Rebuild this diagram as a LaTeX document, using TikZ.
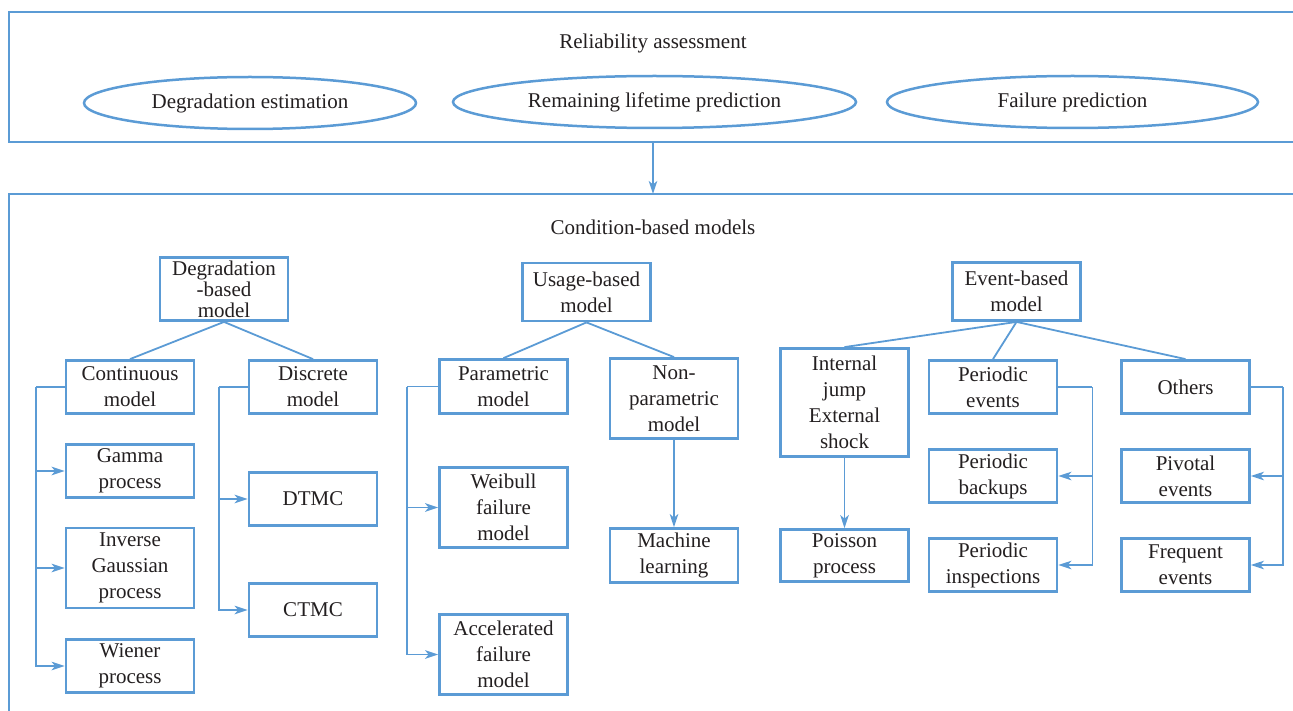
\documentclass[tikz,border=0pt]{standalone}
\usepackage{fontspec}
\setmainfont{Liberation Serif}
\usetikzlibrary{arrows.meta,shapes.geometric}
\definecolor{lineblue}{HTML}{5B9BD5}
\definecolor{ink}{HTML}{231F20}
\begin{document}
\begin{tikzpicture}[x=1pt,y=-1pt,
  every node/.style={text=ink,font=\fontsize{21}{26}\selectfont},
  box/.style={draw=lineblue,line width=2.8pt,rectangle,minimum width=128,align=center,inner sep=2pt},
  oval/.style={draw=lineblue,line width=2.5pt,ellipse,inner sep=0pt},
  link/.style={draw=lineblue,line width=1.8pt},
  arr/.style={link,-{Stealth[length=13pt,width=8.5pt,inset=3.5pt]}}]
\useasboundingbox (0,0) rectangle (1293,711);
%
% outer frames
\draw[link,line width=2.8pt] (1293,12) -- (9,12) -- (9,142) -- (1293,142);
\draw[link,line width=2.8pt] (1293,194) -- (9,194) -- (9,711);
\coordinate (topframe) at (653,142);
\coordinate (botframe) at (653,194);
\draw[arr] (topframe) -- (botframe);
%
% reliability assessment
\node (rel) at (653,43) {Reliability assessment};
\node[oval,minimum width=332,minimum height=52] (degest) at (250,103) {Degradation estimation};
\node[oval,minimum width=403,minimum height=52] (rlp) at (654.5,102) {Remaining lifetime prediction};
\node[oval,minimum width=371,minimum height=52] (failp) at (1072.5,102) {Failure prediction};
%
% condition-based models
\node (cbm) at (653,227) {Condition-based models};
\node[box,minimum height=63,font=\fontsize{21}{21}\selectfont] (deg) at (224,289) {Degradation\\-based\\model};
\node[box,minimum height=58] (usg) at (586.5,292) {Usage-based\\model};
\node[box,minimum height=58] (evt) at (1016.5,291.5) {Event-based\\model};
%
% degradation-based branch
\node[box,minimum height=53] (cont) at (130,387) {Continuous\\model};
\node[box,minimum height=53] (disc) at (313,387) {Discrete\\model};
\node[box,minimum height=53] (gam) at (130,471) {Gamma\\process};
\node[box,minimum height=80] (invg) at (130,568) {Inverse\\Gaussian\\process};
\node[box,minimum height=53] (wien) at (130,666) {Wiener\\process};
\node[box,minimum height=53] (dtmc) at (313,499) {DTMC};
\node[box,minimum height=53] (ctmc) at (313,610) {CTMC};
%
% usage-based branch
\node[box,minimum height=54] (par) at (503.5,386.5) {Parametric\\model};
\node[box,minimum height=80] (npar) at (674,398.5) {Non-\\parametric\\model};
\node[box,minimum height=80] (weib) at (503.5,507.5) {Weibull\\failure\\model};
\node[box,minimum height=80] (accel) at (503.5,654.5) {Accelerated\\failure\\model};
\node[box,minimum height=54] (mach) at (674,555.5) {Machine\\learning};
%
% event-based branch
\node[box,minimum height=108] (ijes) at (844.5,402.5) {Internal\\jump\\External\\shock};
\node[box,minimum height=52] (pois) at (844.5,555.5) {Poisson\\process};
\node[box,minimum height=53] (pev) at (993,387) {Periodic\\events};
\node[box,minimum height=53] (pbk) at (993,476) {Periodic\\backups};
\node[box,minimum height=53] (pin) at (993,565) {Periodic\\inspections};
\node[box,minimum height=53] (oth) at (1185.5,387) {Others};
\node[box,minimum height=53] (piv) at (1185.5,476) {Pivotal\\events};
\node[box,minimum height=53] (freq) at (1185.5,565) {Frequent\\events};
%
% tree links
\foreach \a/\b in {deg/cont,deg/disc,usg/par,usg/npar,evt/ijes,evt/pev,evt/oth}
\draw[link] (\a.south) -- (\b.north);
\draw[arr] (npar) -- (mach);
\draw[arr] (ijes) -- (pois);
%
% side buses
\draw[link] (cont.west) -- ++(-29,0) coordinate (cbus);
\foreach \n in {gam,invg,wien}
\draw[arr] (cbus) |- (\n.west);
\draw[link] (disc.west) -- ++(-29,0) coordinate (dbus);
\foreach \n in {dtmc,ctmc}
\draw[arr] (dbus) |- (\n.west);
\draw[link] (par.west) -- ++(-31,0) coordinate (pbus);
\foreach \n in {weib,accel}
\draw[arr] (pbus) |- (\n.west);
\draw[link] (pev.east) -- ++(34,0) coordinate (ebus);
\foreach \n in {pbk,pin}
\draw[arr] (ebus) |- (\n.east);
\draw[link] (oth.east) -- ++(32,0) coordinate (obus);
\foreach \n in {piv,freq}
\draw[arr] (obus) |- (\n.east);
\end{tikzpicture}
\end{document}
